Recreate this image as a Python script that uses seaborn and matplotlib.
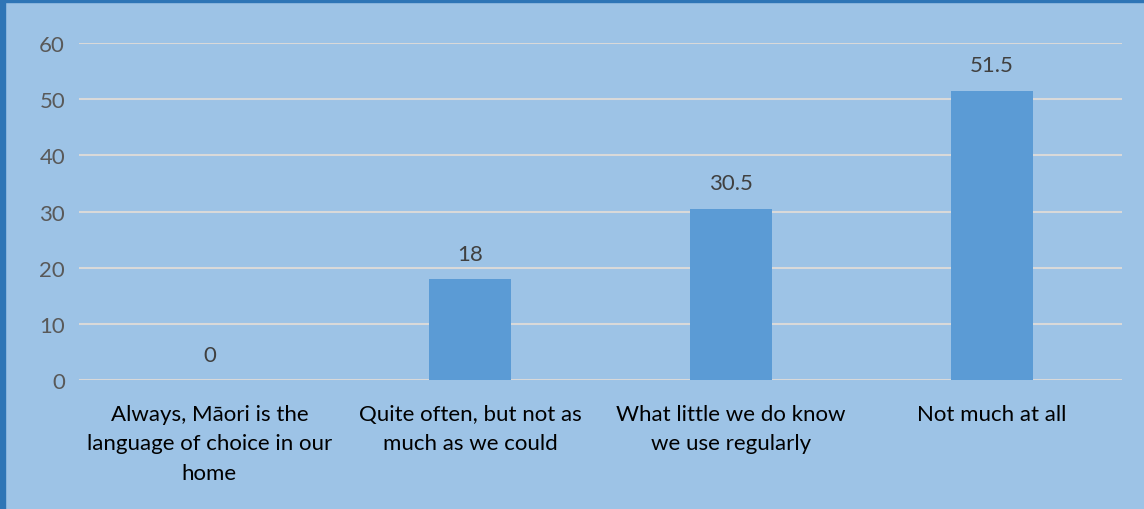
import matplotlib
matplotlib.use("Agg")
import matplotlib.pyplot as plt
import seaborn as sns
import pandas as pd
from matplotlib.patches import Rectangle

categories = [
    "Always, Māori is the\nlanguage of choice in our\nhome",
    "Quite often, but not as\nmuch as we could",
    "What little we do know\nwe use regularly",
    "Not much at all",
]
values = [0, 18, 30.5, 51.5]
value_labels = ["0", "18", "30.5", "51.5"]
yticks = [0, 10, 20, 30, 40, 50, 60]

sns.set_theme(style="white")
plt.rcParams['font.family'] = ['Lato', 'DejaVu Sans']

bg = "#9DC3E6"
fig = plt.figure(figsize=(11.44, 5.10), dpi=100, facecolor=bg)
ax = fig.add_axes([0.069, 0.2529, 0.912, 0.6608])
ax.set_facecolor(bg)

df = pd.DataFrame({"cat": categories, "val": values})
sns.barplot(data=df, x="cat", y="val", color="#5B9BD5", saturation=1,
            width=0.315, ax=ax, zorder=3, linewidth=0)

ax.set_ylim(0, 60)
ax.set_xlim(-0.5, 3.5)
ax.set_yticks(yticks)
ax.set_yticklabels([str(t) for t in yticks])
ax.yaxis.grid(True, color="#D9D9D9", linewidth=1.5, zorder=0)
ax.set_axisbelow(True)
for s in ax.spines.values():
    s.set_visible(False)
ax.set_xlabel("")
ax.set_ylabel("")
ax.tick_params(axis="y", length=0, pad=10, labelsize=16, labelcolor="#595959")
ax.tick_params(axis="x", length=0, pad=17, labelsize=16, labelcolor="#000000")
for lab in ax.get_xticklabels():
    lab.set_linespacing(1.6)

for i, (v, t) in enumerate(zip(values, value_labels)):
    ax.annotate(t, (i, v), xytext=(0, 11), textcoords="offset points",
                ha="center", va="bottom", fontsize=16, color="#404040")

# frame borders (left and top)
fig.patches.append(Rectangle((0, 0), 5/1144, 1, transform=fig.transFigure,
                             color="#2E75B6", zorder=10))
fig.patches.append(Rectangle((0, 1-3/510), 1, 3/510, transform=fig.transFigure,
                             color="#2E75B6", zorder=10))

fig.savefig("out.png", dpi=100, facecolor=bg)
